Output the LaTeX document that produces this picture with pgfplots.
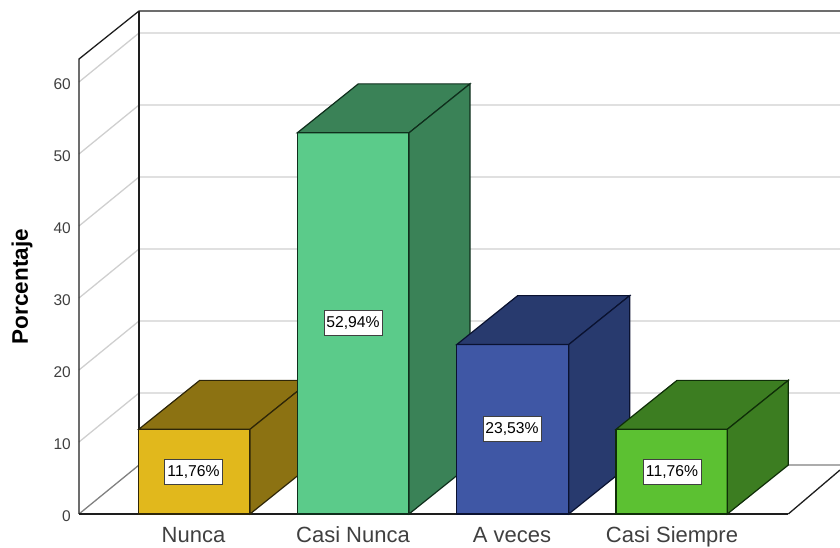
\documentclass[border=0pt]{standalone}
\usepackage{pgfplots}
\pgfplotsset{compat=1.18}
\usepackage{fontspec}
\setmainfont{Liberation Sans}
\definecolor{gridgray}{HTML}{CFCFCF}
\definecolor{wall}{HTML}{1E1E1E}
\definecolor{aF}{HTML}{E1B81C}\definecolor{aS}{HTML}{8C7212}\definecolor{aE}{HTML}{2E2608}
\definecolor{bF}{HTML}{5BCB8A}\definecolor{bS}{HTML}{3A8257}\definecolor{bE}{HTML}{0F2E1C}
\definecolor{cF}{HTML}{3F57A5}\definecolor{cS}{HTML}{283A6E}\definecolor{cE}{HTML}{0A1230}
\definecolor{dF}{HTML}{5CC132}\definecolor{dS}{HTML}{3C7D21}\definecolor{dE}{HTML}{0F2E08}
\begin{document}
\begin{tikzpicture}
\path[use as bounding box] (-79pt,-34pt) rectangle (761pt,514pt);
\begin{axis}[
  scale only axis, width=761pt, height=514pt,
  xmin=79, xmax=840, ymin=0, ymax=71.389,
  clip=false,
  axis line style={draw=none},
  major tick length=0pt, tick style={draw=none},
  xtick={193.5,353,512,672},
  xticklabels={Nunca,Casi Nunca,A veces,Casi Siempre},
  ytick={0,10,20,30,40,50,60},
  /pgf/number format/assume math mode=true,
  x tick label style={anchor=base, yshift=-29pt, font=\fontsize{22}{24}\selectfont, text=black!75},
  y tick label style={anchor=east, inner sep=0pt, xshift=-8pt, yshift=-2.5pt, font=\fontsize{15.5}{18}\selectfont, text=black!75},
  ylabel={\textbf{Porcentaje}},
  ylabel style={at={(axis description cs:-0.0749,0.4426)}, anchor=center, font=\fontsize{22.5}{24}\selectfont},
]
% grid on back wall and side wall
\addplot[gridgray, line width=1.3pt] coordinates {(79,10)(139,16.8)(840,16.8)};
\addplot[gridgray, line width=1.3pt] coordinates {(79,20)(139,26.8)(840,26.8)};
\addplot[gridgray, line width=1.3pt] coordinates {(79,30)(139,36.8)(840,36.8)};
\addplot[gridgray, line width=1.3pt] coordinates {(79,40)(139,46.8)(840,46.8)};
\addplot[gridgray, line width=1.3pt] coordinates {(79,50)(139,56.8)(840,56.8)};
\addplot[gridgray, line width=1.3pt] coordinates {(79,60)(139,66.8)(840,66.8)};
% floor
\addplot[black!50, line width=1.3pt] coordinates {(79,0)(139,6.8)(840,6.8)};
\addplot[wall, line width=1.3pt] coordinates {(788.3,0)(840,6.11)};
% walls
\addplot[wall, line width=1.3pt] coordinates {(79,0)(79,63.19)(139,69.86)(840,69.86)};
\addplot[wall, line width=1.3pt] coordinates {(139,69.86)(139,6.8)};
\addplot[wall, line width=1.3pt] coordinates {(79,0)(788.3,0)};
% Nunca 11.76
\addplot[fill=aF, draw=aE, line width=1.2pt] coordinates {(138.7,0)(250,0)(250,11.76)(138.7,11.76)} --cycle;
\addplot[fill=aS, draw=aE, line width=1.2pt] coordinates {(138.7,11.76)(250,11.76)(311,18.56)(199.7,18.56)} --cycle;
\addplot[fill=aS, draw=aE, line width=1.2pt] coordinates {(250,0)(311,6.8)(311,18.56)(250,11.76)} --cycle;
% Casi Nunca 52.94
\addplot[fill=bF, draw=bE, line width=1.2pt] coordinates {(297.3,0)(409,0)(409,52.94)(297.3,52.94)} --cycle;
\addplot[fill=bS, draw=bE, line width=1.2pt] coordinates {(297.3,52.94)(409,52.94)(470,59.74)(358.3,59.74)} --cycle;
\addplot[fill=bS, draw=bE, line width=1.2pt] coordinates {(409,0)(470,6.8)(470,59.74)(409,52.94)} --cycle;
% A veces 23.53
\addplot[fill=cF, draw=cE, line width=1.2pt] coordinates {(456.7,0)(568.7,0)(568.7,23.53)(456.7,23.53)} --cycle;
\addplot[fill=cS, draw=cE, line width=1.2pt] coordinates {(456.7,23.53)(568.7,23.53)(629.7,30.33)(517.7,30.33)} --cycle;
\addplot[fill=cS, draw=cE, line width=1.2pt] coordinates {(568.7,0)(629.7,6.8)(629.7,30.33)(568.7,23.53)} --cycle;
% Casi Siempre 11.76
\addplot[fill=dF, draw=dE, line width=1.2pt] coordinates {(616,0)(727.3,0)(727.3,11.76)(616,11.76)} --cycle;
\addplot[fill=dS, draw=dE, line width=1.2pt] coordinates {(616,11.76)(727.3,11.76)(788.3,18.56)(677,18.56)} --cycle;
\addplot[fill=dS, draw=dE, line width=1.2pt] coordinates {(727.3,0)(788.3,6.8)(788.3,18.56)(727.3,11.76)} --cycle;
% value labels
\addplot[draw=none, mark=none, nodes near coords, point meta=explicit symbolic,
  nodes near coords style={anchor=center, fill=white, draw=black!75, line width=1pt,
    minimum width=58pt, minimum height=25pt, inner sep=0pt, text=black,
    font=\fontsize{15.7}{18}\selectfont}]
  coordinates {(193.5,5.88)[11,76\%] (353,26.47)[52,94\%] (512,11.76)[23,53\%] (672,5.88)[11,76\%]};
\end{axis}
\end{tikzpicture}
\end{document}
